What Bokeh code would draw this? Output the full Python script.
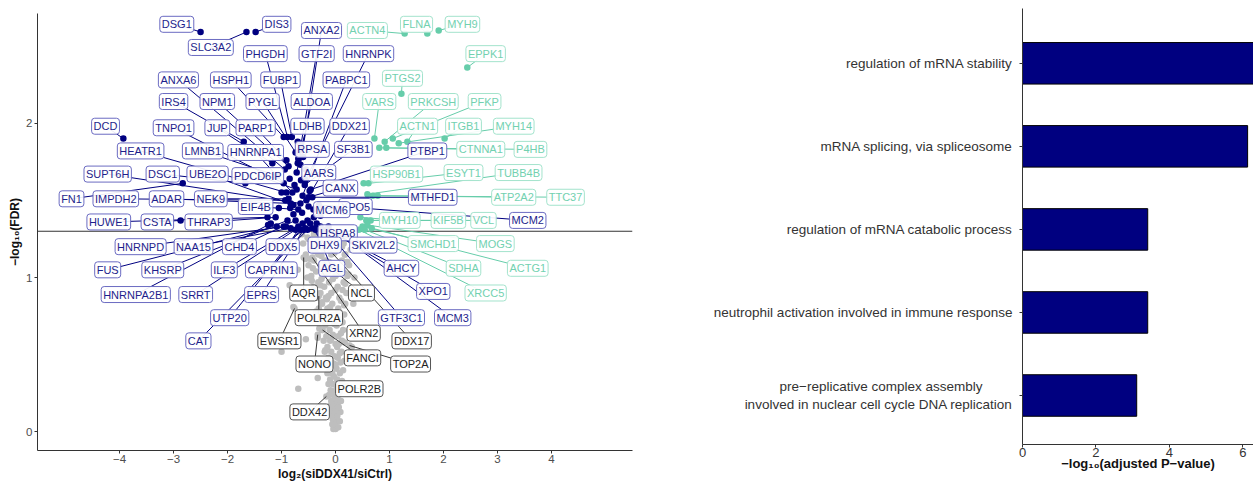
from bokeh.plotting import figure
from bokeh.models import ColumnDataSource, FixedTicker, Span
from bokeh.layouts import row
from bokeh.core.properties import value
from bokeh.embed import file_html
from bokeh.resources import INLINE

FONT = "Liberation Sans"

# ---------------- volcano data ----------------
down_genes = ["DSG1","SLC3A2","DIS3","ANXA2","PHGDH","GTF2I","HNRNPK","ANXA6","HSPH1","FUBP1",
              "PABPC1","IRS4","NPM1","PYGL","ALDOA","TNPO1","JUP","PARP1","LDHB","DDX21",
              "DCD","HEATR1","LMNB1","HNRNPA1","RPSA","SF3B1","PTBP1","SUPT6H","DSC1","UBE2O",
              "PDCD6IP","AARS","FN1","IMPDH2","ADAR","NEK9","CANX","MTHFD1","EIF4B","XPO5",
              "MCM6","HUWE1","CSTA","THRAP3","MCM2","HSPA8","HNRNPD","NAA15","CHD4","DDX5",
              "DHX9","SKIV2L2","FUS","KHSRP","ILF3","CAPRIN1","AGL","AHCY","HNRNPA2B1","SRRT",
              "EPRS","XPO1","UTP20","GTF3C1","MCM3","CAT"]
down_fc = [-2.50,-1.65,-1.48,-0.65,-0.89,-0.70,-0.56,-0.94,-0.96,-0.81,
           -0.61,-1.70,-0.87,-0.74,-0.72,-0.96,-1.17,-0.91,-0.65,-0.54,
           -3.93,-0.91,-1.09,-0.80,-0.69,-0.57,-0.46,-0.65,-1.67,-0.78,
           -0.72,-0.59,-2.83,-0.93,-0.83,-0.87,-0.50,-0.43,-0.69,-0.41,
           -0.52,-1.26,-2.87,-1.11,-0.31,-0.31,-0.96,-0.83,-0.74,-0.56,
           -0.43,-0.24,-1.09,-0.89,-0.69,-0.61,-0.37,-0.28,-1.20,-0.74,
           -0.59,-0.35,-0.65,-0.19,-0.13,-0.52]
down_fdr = [2.59,2.59,2.59,1.73,1.91,1.74,1.63,1.70,1.91,1.91,
            1.53,1.88,1.72,1.81,1.68,1.61,1.74,1.76,1.83,1.50,
            1.90,1.55,1.66,1.55,1.77,1.60,1.57,1.48,1.61,1.47,
            1.57,1.64,1.61,1.50,1.48,1.51,1.52,1.52,1.44,1.44,
            1.37,1.39,1.37,1.39,1.47,1.33,1.33,1.32,1.37,1.32,
            1.32,1.31,1.33,1.37,1.33,1.35,1.31,1.33,1.35,1.31,
            1.31,1.35,1.31,1.31,1.33,1.31]
down_lab_x = [-2.94,-2.31,-1.09,-0.26,-1.30,-0.35,0.61,-2.91,-1.94,-1.02,
              0.20,-3.00,-2.19,-1.35,-0.44,-3.00,-2.19,-1.48,-0.52,0.26,
              -4.26,-3.61,-2.46,-1.48,-0.43,0.33,1.70,-4.22,-3.20,-2.37,
              -1.44,-0.31,-4.89,-4.07,-3.13,-2.31,0.09,1.80,-1.48,0.37,
              -0.07,-4.20,-3.30,-2.35,3.56,0.04,-3.61,-2.63,-1.78,-0.98,
              -0.20,0.70,-4.22,-3.20,-2.06,-1.19,-0.07,1.22,-3.70,-2.59,
              -1.37,1.81,-1.96,1.22,2.17,-2.54]
down_lab_y = [2.64,2.49,2.64,2.60,2.45,2.45,2.45,2.28,2.28,2.28,
              2.28,2.14,2.14,2.14,2.14,1.97,1.97,1.97,1.98,1.98,
              1.98,1.82,1.82,1.81,1.83,1.83,1.82,1.67,1.67,1.67,
              1.66,1.68,1.51,1.51,1.51,1.51,1.58,1.52,1.46,1.46,
              1.44,1.36,1.36,1.36,1.37,1.29,1.20,1.20,1.20,1.20,
              1.21,1.21,1.05,1.05,1.05,1.05,1.06,1.06,0.89,0.89,
              0.89,0.91,0.74,0.74,0.74,0.59]

down_extra_fc = [-0.84,-0.62,-0.78,-0.40,-0.47,-0.92,-0.48,-0.76,-0.64,-0.60,
                 -0.70,-0.55,-1.05,-1.25,-0.35,-0.28,-0.50,-0.85,-1.00]
down_extra_fdr = [1.45,1.42,1.41,1.39,1.35,1.33,1.56,1.60,1.63,1.78,
                  1.88,1.70,1.45,1.34,1.32,1.40,1.46,1.64,1.55]

up_genes = ["ACTN4","FLNA","MYH9","EPPK1","PTGS2","VARS","PRKCSH","PFKP","ACTN1","ITGB1",
            "MYH14","CTNNA1","P4HB","HSP90B1","ESYT1","TUBB4B","ATP2A2","TTC37","MYH10","KIF5B",
            "VCL","SMCHD1","MOGS","SDHA","ACTG1","XRCC5"]
up_fc = [1.28,1.70,1.91,2.44,1.22,0.72,0.91,1.06,1.33,2.02,
         1.17,0.81,0.94,0.52,0.61,0.59,0.78,0.69,0.46,0.57,
         0.65,0.50,0.59,0.54,0.67,0.43]
up_fdr = [2.58,2.58,2.60,2.36,2.19,1.90,1.88,1.90,1.88,1.90,
          1.87,1.84,1.84,1.61,1.61,1.54,1.53,1.53,1.39,1.37,
          1.37,1.33,1.34,1.31,1.32,1.31]
up_lab_x = [0.59,1.50,2.35,2.78,1.24,0.81,1.81,2.76,1.52,2.37,
            3.30,2.69,3.61,1.13,2.37,3.39,3.30,4.26,1.19,2.09,
            2.74,1.81,2.96,2.37,3.56,2.78]
up_lab_y = [2.60,2.64,2.64,2.45,2.29,2.14,2.14,2.14,1.98,1.98,
            1.98,1.83,1.83,1.67,1.68,1.68,1.52,1.52,1.37,1.37,
            1.37,1.22,1.22,1.06,1.06,0.90]

ns_genes = ["AQR","POLR2A","EWSR1","NONO","FANCI","XRN2","NCL","DDX17","TOP2A","POLR2B","DDX42"]
ns_fc = [-0.59,-0.31,-0.76,-0.33,-0.24,-0.43,-0.22,-0.09,0.26,0.19,-0.17]
ns_fdr = [1.13,0.88,0.80,0.63,0.66,1.13,1.10,1.17,0.56,0.30,0.23]
ns_lab_x = [-0.59,-0.31,-1.04,-0.39,0.50,0.52,0.48,1.41,1.39,0.44,-0.48]
ns_lab_y = [0.90,0.74,0.59,0.44,0.48,0.64,0.90,0.59,0.44,0.28,0.13]

ns_other_fc = [-0.04,0.00,-0.06,-0.01,-0.05,0.02,-0.08,-0.02,0.03,-0.07,0.01,
               -0.10,-0.03,0.04,-0.08,0.02,-0.12,-0.04,0.05,-0.09,0.01,
               -0.13,-0.05,0.06,-0.10,0.03,-0.15,-0.06,0.08,-0.11,0.02,
               -0.18,-0.07,0.09,-0.13,0.04,-0.20,-0.08,0.11,-0.15,0.03,
               -0.22,-0.10,0.12,-0.17,0.05,-0.25,-0.11,0.14,-0.19,0.02,
               -0.28,-0.13,0.10,-0.22,-0.04,0.16,-0.31,-0.15,0.05,
               -0.25,-0.06,0.18,-0.35,-0.18,0.07,-0.28,-0.08,0.20,
               -0.40,-0.21,0.04,-0.32,-0.12,0.15,-0.45,-0.24,0.00,0.22,
               -0.36,-0.14,0.10,-0.50,-0.28,-0.05,0.25,-0.40,-0.18,0.12,
               -0.55,-0.32,-0.08,0.18,-0.45,-0.22,0.05,0.28,
               -0.60,-0.36,-0.12,0.15,-0.50,-0.26,0.02,0.30,
               -0.62,-0.40,-0.15,0.10,
               -1.00,-0.69,-0.78,-0.85,-0.60,0.30,0.36,0.33,0.35,-0.55,-0.70,-0.33,-0.33,
               -0.02,0.06,-0.16,0.13,-0.26,0.21,-0.38,-0.47,0.08,-0.30,0.17,-0.52,-0.44,0.24,
               0.05,0.08,0.03,0.09,0.06,0.10,0.00,0.08,0.12,0.02,
               0.12,-0.03,0.14,0.00,-0.16,0.16,-0.02,0.08,-0.19,0.00,0.17,-0.08,
               -0.05,0.10,-0.30,-0.02,0.13,-0.20,0.04,-0.36,-0.10,0.16,-0.25,0.10,-0.13,-0.44,
               0.00,-0.28,0.18,-0.05,-0.52,-0.20,0.16,-0.42,0.02,-0.12,-0.56,0.22,-0.26,-0.02,
               -0.38,0.12,-0.18,-0.48,0.05,-0.22,0.20,-0.34]
ns_other_fdr = [0.02,0.02,0.05,0.05,0.08,0.08,0.11,0.11,0.11,0.14,0.14,
                0.17,0.17,0.17,0.20,0.20,0.24,0.24,0.24,0.27,0.27,
                0.31,0.31,0.31,0.34,0.34,0.38,0.38,0.38,0.41,0.41,
                0.45,0.45,0.45,0.48,0.48,0.52,0.52,0.52,0.55,0.55,
                0.59,0.59,0.59,0.62,0.62,0.66,0.66,0.66,0.69,0.69,
                0.73,0.73,0.73,0.76,0.76,0.76,0.80,0.80,0.80,
                0.83,0.83,0.83,0.87,0.87,0.87,0.90,0.90,0.90,
                0.94,0.94,0.94,0.97,0.97,0.97,1.01,1.01,1.01,1.01,
                1.04,1.04,1.04,1.08,1.08,1.08,1.08,1.11,1.11,1.11,
                1.15,1.15,1.15,1.15,1.18,1.18,1.18,1.18,
                1.22,1.22,1.22,1.22,1.25,1.25,1.25,1.25,
                1.28,1.28,1.28,1.28,
                0.52,0.28,0.81,0.95,0.75,0.55,0.62,0.83,1.00,0.60,1.05,0.35,0.61,
                0.44,0.57,0.86,0.92,0.99,1.10,1.17,1.12,1.20,1.24,1.15,1.26,0.98,1.02,
                0.03,0.07,0.10,0.13,0.16,0.20,0.22,0.26,0.29,0.29,
                0.33,0.36,0.40,0.43,0.43,0.46,0.49,0.51,0.53,0.57,0.58,0.60,
                0.63,0.64,0.67,0.70,0.71,0.74,0.78,0.78,0.81,0.82,0.84,0.85,0.88,0.89,
                0.92,0.95,0.96,0.99,1.00,1.03,1.03,1.06,1.06,1.10,1.12,1.10,1.14,1.16,
                1.19,1.20,1.22,1.25,1.27,1.28,1.27,1.28]

fdr_threshold = 1.30
x_ticks = [-4, -3, -2, -1, 0, 1, 2, 3, 4]
y_ticks = [0, 1, 2]

# ---------------- GO enrichment data ----------------
NB = "\u00a0"
go_terms = ["regulation of mRNA stability",
            "mRNA splicing, via spliceosome",
            "regulation of mRNA catabolic process",
            "neutrophil activation involved in immune response",
            "pre\u2212replicative complex assembly" + NB * 8 + "\n"
            "involved in nuclear cell cycle DNA replication"]
go_values = [6.6, 6.13, 3.41, 3.41, 3.11]
go_ticks = [0, 2, 4, 6]

# ---------------- colours ----------------
NAVY = "#000080"
AQUA = "#66CDAA"
GREY = "#BEBEBE"

# ---------------- volcano plot ----------------
p = figure(width=638, height=483, x_range=(-5.52, 5.5), y_range=(-0.12, 2.71),
           output_backend="svg", toolbar_location=None,
           min_border_left=37, min_border_right=6, min_border_top=13, min_border_bottom=20)
p.outline_line_color = None
p.grid.visible = False

p.add_layout(Span(location=fdr_threshold, dimension="width", line_color="#333333",
                  line_width=1.2, level="underlay"))

p.scatter(ns_other_fc, ns_other_fdr, size=6.5, color=GREY, line_color=None)
p.scatter(ns_fc, ns_fdr, size=6.5, color=GREY, line_color=None)
p.scatter(down_extra_fc, down_extra_fdr, size=6.5, color=NAVY, line_color=None)

src_down = ColumnDataSource(dict(x=down_fc, y=down_fdr, lx=down_lab_x, ly=down_lab_y, g=down_genes))
src_up = ColumnDataSource(dict(x=up_fc, y=up_fdr, lx=up_lab_x, ly=up_lab_y, g=up_genes))
src_ns = ColumnDataSource(dict(x=ns_fc, y=ns_fdr, lx=ns_lab_x, ly=ns_lab_y, g=ns_genes))

p.scatter("x", "y", source=src_down, size=6.5, color=NAVY, line_color=None)
p.scatter("x", "y", source=src_up, size=6.5, color=AQUA, line_color=None)

p.segment("x", "y", "lx", "ly", source=src_ns, line_color="#222222", line_width=0.9)
p.segment("x", "y", "lx", "ly", source=src_down, line_color=NAVY, line_width=1.0)
p.segment("x", "y", "lx", "ly", source=src_up, line_color=AQUA, line_width=1.0)

def labels(src, tcol, bcol):
    p.text("lx", "ly", text="g", source=src, text_font=value(FONT), text_font_size="11px",
           text_color=tcol, text_align="center", text_baseline="middle",
           background_fill_color="white", background_fill_alpha=0.92,
           border_line_color=bcol, border_line_width=1, padding=2, border_radius=3)

labels(src_ns, "#222222", "#555555")
labels(src_down, "#1e1e8c", "#6b6bc2")
labels(src_up, "#72d1b0", "#a3e3cc")

def style_axes(fig, label_color):
    for ax in (fig.xaxis, fig.yaxis):
        ax.axis_line_color = "#333333"
        ax.major_tick_line_color = "#333333"
        ax.major_tick_in = 0
        ax.major_tick_out = 3
        ax.minor_tick_line_color = None
        ax.major_label_text_font = FONT
        ax.major_label_text_font_size = "11.5px"
        ax.major_label_text_color = label_color
        ax.axis_label_text_font = FONT
        ax.axis_label_text_font_size = "12px"
        ax.axis_label_text_font_style = "bold"
        ax.axis_label_text_color = "#111111"
        ax.major_label_standoff = 1
        ax.axis_label_standoff = 1

style_axes(p, "#4d4d4d")
p.yaxis.major_label_standoff = 2
p.xaxis.ticker = FixedTicker(ticks=x_ticks)
p.xaxis.major_label_overrides = {t: (str(t).replace("-", "\u2212")) for t in x_ticks}
p.yaxis.ticker = FixedTicker(ticks=y_ticks)
p.xaxis.axis_label = "log\u2082(siDDX41/siCtrl)"
p.yaxis.axis_label = "\u2212log\u2081\u2080(FDR)"

# ---------------- GO bar chart ----------------
go_y = [5, 4, 3, 2, 1]
q = figure(width=615, height=483, x_range=(0, 6.29), y_range=(0.41, 5.66),
           output_backend="svg", toolbar_location=None,
           min_border_left=384, min_border_right=0, min_border_top=8, min_border_bottom=39)
q.outline_line_color = None
q.grid.visible = False
q.hbar(y=go_y, right=go_values, left=0, height=0.5, fill_color=NAVY,
       line_color="#000000", line_width=1)

style_axes(q, "#333333")
q.yaxis.major_label_text_font_size = "13.5px"
q.yaxis.major_label_standoff = 7
q.xaxis.major_label_text_font_size = "13px"
q.xaxis.major_label_standoff = 0
q.xaxis.axis_label_text_font_size = "13px"
q.xaxis.axis_label_standoff = -4
q.xaxis.ticker = FixedTicker(ticks=go_ticks)
q.yaxis.ticker = FixedTicker(ticks=go_y)
q.yaxis.major_label_overrides = {y: t for y, t in zip(go_y, go_terms)}
q.xaxis.axis_label = "\u2212log\u2081\u2080(adjusted P\u2212value)"

# keep each panel's frame independent (no cross-panel frame alignment)
for fig in (p, q):
    try:
        fig.frame_align = False
    except Exception:
        pass

layout = row(p, q)
open("out.html", "w").write(file_html(layout, INLINE))
